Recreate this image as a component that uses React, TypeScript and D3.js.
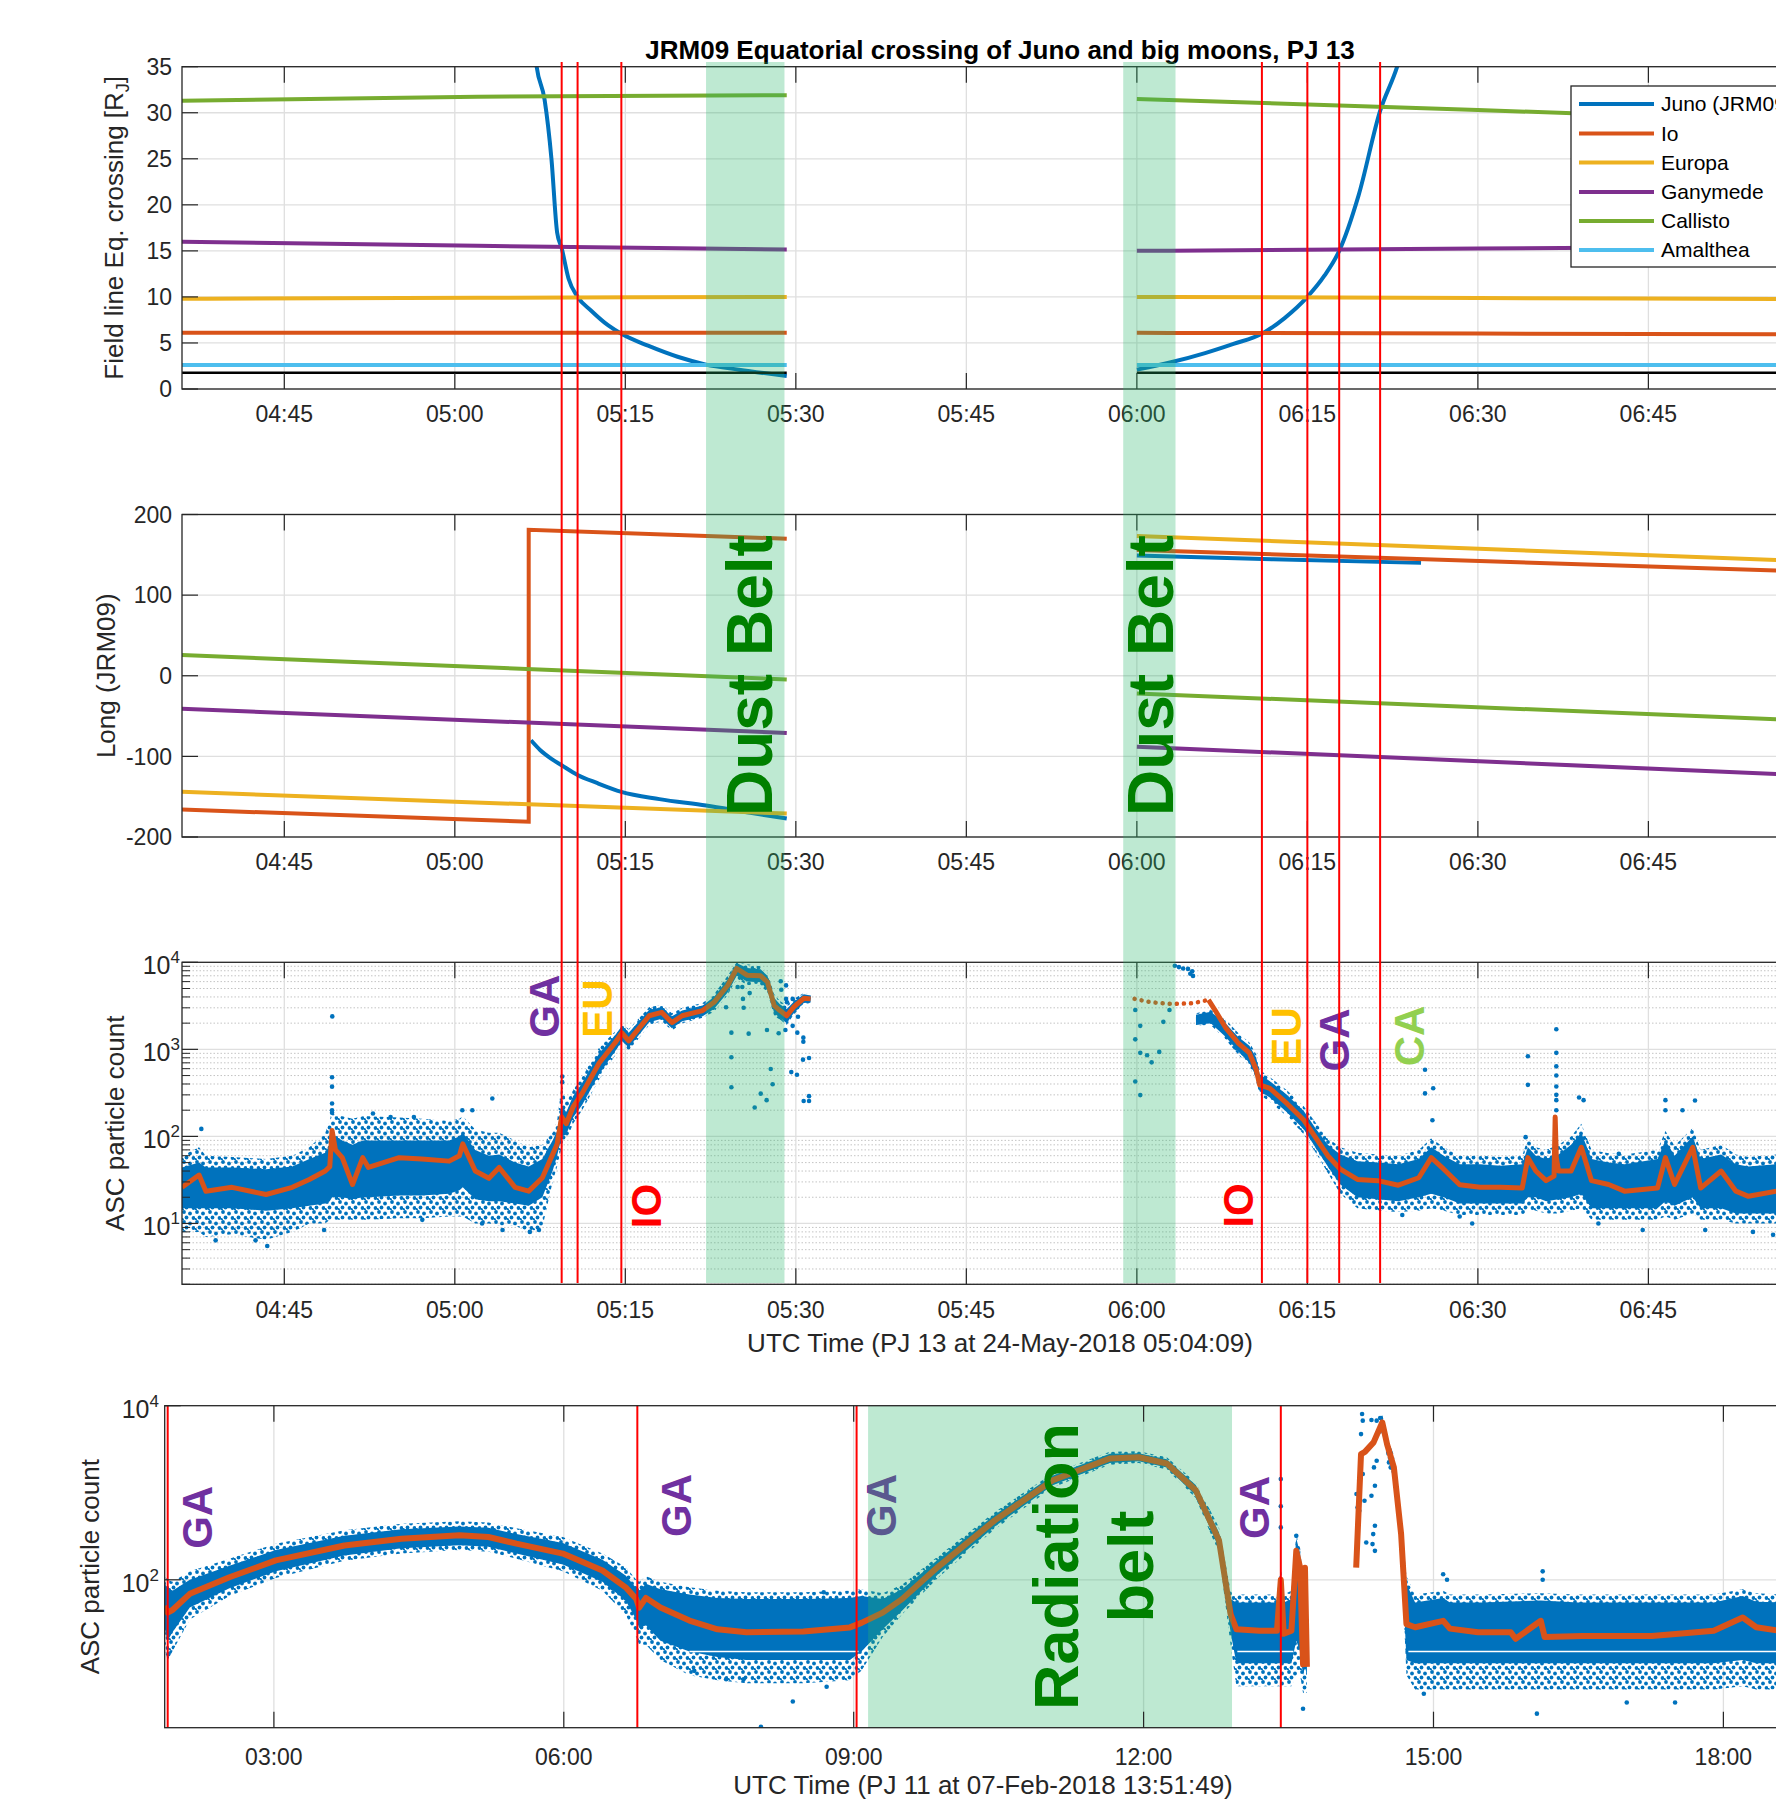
import React from 'react';
import * as d3 from 'd3';

// ================= DATA =================
// time axis of panels 1-3: minutes after 04:00 UTC (24-May-2018)
const pjTickMin = [45, 60, 75, 90, 105, 120, 135, 150, 165, 180];
const pjTickLabels = ['04:45', '05:00', '05:15', '05:30', '05:45', '06:00', '06:15', '06:30', '06:45', ''];
// time axis of panel 4: hours UTC (07-Feb-2018)
const pj11TickHour = [3, 6, 9, 12, 15, 18];
const pj11TickLabels = ['03:00', '06:00', '09:00', '12:00', '15:00', '18:00'];

const eqTicks = [0, 5, 10, 15, 20, 25, 30, 35];
const lonTicks = [-200, -100, 0, 100, 200];
const logTicks3 = [10, 100, 1000, 10000];
const logTickExp3 = ['1', '2', '3', '4'];
const logTicks4 = [100, 10000];
const logTickExp4 = ['2', '4'];

const legendLabels = ['Juno (JRM09)', 'Io', 'Europa', 'Ganymede', 'Callisto', 'Amalthea'];

// ---- Panel 1: field line equatorial crossing [RJ]
const junoEqT1 = [67.0, 67.2, 67.9, 68.5, 69.0, 69.4, 70.0, 70.8, 72.0, 73.5, 74.65, 77.0, 79.6, 82.1, 85.0, 89.2];
const junoEqV1 = [37, 35, 31.4, 25, 17, 15.3, 12.0, 10, 8.5, 6.9, 6.0, 4.7, 3.5, 2.65, 2.1, 1.4];
const junoEqT2 = [120, 123, 126, 128.5, 131.0, 133.0, 135.0, 136.5, 137.8, 139.5, 141.4, 142.9, 143.5];
const junoEqV2 = [2.1, 2.9, 3.9, 4.9, 6.0, 7.7, 10, 12.3, 15, 21, 30.2, 35, 37.5];
const moonT1 = [36, 62, 89.2];
const moonT2 = [120, 150, 180];
const ioEq1 = [6.1, 6.1, 6.1];
const ioEq2 = [6.1, 6.02, 5.95];
const europaEq1 = [9.8, 9.9, 10.0];
const europaEq2 = [10.0, 9.88, 9.75];
const ganymedeEq1 = [16.0, 15.55, 15.15];
const ganymedeEq2 = [15.0, 15.25, 15.5];
const callistoEq1 = [31.3, 31.75, 31.9];
const callistoEq2 = [31.5, 30.3, 29.0];
const amaltheaEq1 = [2.6, 2.6, 2.6];
const amaltheaEq2 = [2.6, 2.6, 2.6];
const jupiterEq1 = [1.77, 1.77, 1.77];
const jupiterEq2 = [1.77, 1.77, 1.77];

// ---- Panel 2: longitude (JRM09)
const junoLonT1 = [66.7, 67.5, 68.5, 69.4, 70.8, 72.5, 74.65, 78, 82.1, 86, 89.2];
const junoLonV1 = [-80, -92, -103, -111, -123, -133, -144, -153, -161, -170, -177];
const junoLonT2 = [120, 132, 145];
const junoLonV2 = [149, 144.5, 140];
const ioLonT1 = [36, 66.5, 66.5, 89.2];
const ioLonV1 = [-166, -181, 181, 170];
const lonT1 = [36, 89.2];
const lonT2 = [120, 180];
const ioLonV2 = [156, 128.7];
const europaLonV1 = [-144, -171];
const europaLonV2 = [173.3, 141.7];
const ganymedeLonV1 = [-41, -71];
const ganymedeLonV2 = [-88, -124];
const callistoLonV1 = [25.7, -4.5];
const callistoLonV2 = [-22, -56];

// ---- Panel 3: ASC particle count, PJ13 (median and spread of the raw cloud)
const p3T = [36, 37.5, 38.1, 40.4, 43.4, 45.7, 47.2, 48.6, 49.0, 49.2, 49.5, 50.1, 51.0, 51.9, 52.4, 55.1, 57.1, 59.5, 60.4, 60.7, 61.8, 63.0, 63.9, 65.3, 66.5, 67.7, 68.6, 69.0, 69.4, 69.8, 70.4, 71.2, 72.7, 74.1, 74.7, 75.3, 77.1, 78.2, 79.1, 80.0, 81.8, 82.8, 84.0, 84.8, 85.7, 86.9, 87.5, 88.1, 88.6, 89.2, 89.8, 90.7, 91.3];
const p3Med = [26, 36, 23.5, 26, 21.5, 26, 32, 40, 45, 117, 70, 57, 28, 57, 44, 57, 55, 52, 60, 82, 40, 33, 44, 26, 23.5, 33.5, 62, 82, 167, 140, 218, 312, 698, 1190, 1550, 1250, 2430, 2660, 2030, 2430, 2790, 3470, 5420, 8490, 7110, 7000, 5940, 3180, 2790, 2430, 3050, 3860, 3800];
const p3Lo = [15, 15, 15, 15, 14, 15, 16, 17, 18, 20, 20, 20, 19, 20, 20, 21, 21, 22, 24, 26, 19, 18, 18, 17, 16, 20, 40, 60, 100, 105, 165, 230, 520, 950, 1250, 1050, 2050, 2250, 1750, 2100, 2400, 2900, 4500, 7000, 6000, 5900, 4900, 2600, 2300, 2000, 2600, 3400, 3450];
const p3Hi = [44, 50, 44, 44, 42, 45, 55, 65, 80, 100, 100, 90, 80, 90, 90, 90, 90, 90, 100, 110, 70, 60, 62, 50, 45, 55, 90, 115, 230, 190, 290, 410, 900, 1450, 1850, 1550, 2850, 3050, 2400, 2800, 3200, 4000, 6400, 9800, 8600, 8300, 7000, 3900, 3300, 2900, 3500, 4300, 4150];
const p3OLo = [8, 8, 7, 7.5, 6.5, 8, 10, 10, 11, 11, 11, 11, 11, 11, 11, 11.5, 11.5, 12, 12, 12, 10, 10, 9.5, 9.5, 8, 9, 30, 45, 75, 90, 140, 200, 450, 850, 1150, 950, 1900, 2100, 1650, 2000, 2300, 2700, 4200, 6500, 5500, 5400, 4500, 2400, 2200, 1900, 2500, 3300, 3400];
const p3OHi = [60, 75, 60, 58, 55, 60, 75, 110, 150, 200, 170, 170, 160, 170, 170, 165, 160, 150, 160, 170, 120, 110, 110, 90, 75, 80, 110, 150, 400, 250, 340, 480, 1050, 1600, 2000, 1700, 3050, 3250, 2600, 3000, 3400, 4300, 7000, 10000, 9500, 9000, 7600, 4300, 3600, 3200, 3800, 4450, 4250];

// PJ13 outbound: sparse median samples (dotted) then continuous median
const p3DotT = [119.8, 121.2, 123.05, 124.9, 126.3];
const p3DotV = [3800, 3480, 3320, 3380, 3700];
const p3MedBT = [126.3, 126.9, 127.8, 128.9, 129.9, 130.5, 130.8, 131.7, 133.2, 134.7, 135.7, 136.8, 137.9, 139.4, 141.2, 143.0, 144.8, 145.9, 147.0, 148.4, 150.2, 152.0, 153.9, 154.4, 155.1, 156.0, 156.7, 156.8, 156.9, 157.1, 158.2, 159.1, 160.0, 161.5, 162.9, 165.8, 166.5, 167.3, 168.9, 169.6, 171.4, 172.7, 173.8, 176.3, 180];
const p3MedBV = [3700, 2790, 1780, 1190, 912, 583, 391, 357, 239, 153, 98, 60, 42, 32, 31, 27.5, 33.5, 57, 42, 27.8, 26, 26, 25.5, 57, 40, 31, 35, 167, 57, 40, 40, 75, 31, 28, 23.5, 25.5, 57, 28, 75, 25.5, 40, 23.5, 20.5, 23.5, 24];
const p3BandBT = [125.2, 126.5, 127.8, 128.9, 129.9, 130.5, 130.8, 131.7, 133.2, 134.7, 135.7, 136.8, 137.9, 139.4, 141.2, 143.0, 144.8, 145.9, 147.0, 148.4, 150.2, 152.0, 153.9, 154.4, 155.1, 156.0, 157.1, 158.2, 159.1, 160.0, 161.5, 162.9, 165.8, 166.5, 167.3, 168.9, 169.6, 171.4, 172.7, 173.8, 176.3, 180];
const p3BandBLo = [1900, 2000, 1400, 950, 700, 480, 330, 280, 190, 120, 75, 45, 28, 20, 19, 18, 20, 22, 20, 17, 17, 17, 17, 20, 20, 18, 19, 20, 22, 15, 15, 15, 15, 18, 16, 20, 15, 15, 13, 13, 13, 13];
const p3BandBHi = [2500, 2700, 2000, 1400, 1100, 800, 520, 430, 300, 195, 125, 80, 62, 52, 50, 48, 55, 75, 60, 48, 48, 46, 48, 75, 60, 55, 62, 80, 110, 55, 50, 48, 55, 90, 60, 100, 55, 62, 48, 45, 48, 48];
const p3BandBOLo = [1850, 1900, 1300, 880, 640, 430, 300, 250, 170, 105, 66, 38, 22, 15, 14, 13.5, 14, 15, 14, 12.5, 12.5, 12.5, 12.5, 14, 14, 13, 13, 14, 15, 11, 11, 11, 11, 12, 11, 13, 11, 11, 10, 10, 10, 10];
const p3BandBOHi = [2600, 2850, 2200, 1550, 1200, 880, 580, 480, 340, 220, 145, 95, 75, 65, 62, 60, 70, 95, 75, 60, 60, 58, 60, 95, 75, 70, 80, 100, 140, 70, 64, 62, 70, 115, 78, 125, 70, 80, 62, 58, 62, 62];

const p3OutT = [49.22, 49.2, 49.2, 49.2, 49.2, 49.2, 63.3, 60.66, 61.54, 37.7, 52.8, 54.35, 56.4, 69.45, 69.45, 38.96, 42.47, 43.5, 48.5, 57.14, 62.4, 64.2, 66.6, 67.4,
  84.33, 84.33, 84.33, 85.85, 86.38, 86.91, 87.43, 87.46, 87.79, 87.96, 88.49, 89.08, 89.72, 90.13, 90.66, 90.66, 89.6, 90.1, 90.63, 91.16, 90.69, 91.16, 91.16, 83.86, 85.41, 85.35, 85.94, 84.88, 85.29, 88.67, 88.72, 89.14, 89.14, 89.22, 89.72, 90.19,
  119.86, 120.3, 119.86, 120.3, 120.9, 121.3, 121.97, 119.86, 120.3, 122.33, 122.87, 123.34, 123.7, 124.07, 124.5, 124.87, 124.94, 124.7,
  145.35, 145.35, 146.07, 146.0, 154.4, 154.4, 156.9, 156.9, 156.9, 156.9, 156.9, 156.9, 156.9, 156.9, 158.9, 159.3, 166.5, 166.5, 168.0, 169.1, 162.4, 154.2, 149.5, 148.4, 143.35, 160.6, 164.5, 170.0, 175.97, 174.2];
const p3OutV = [2390, 479, 373, 239, 200, 187, 273, 200, 200, 122, 183, 167, 167, 488, 420, 6.4, 6.4, 5.5, 8.4, 11, 10, 8.4, 8, 8.4,
  1556, 811, 367, 1515, 215, 310, 261, 1671, 594, 397, 1531, 1671, 1862, 1556, 1362, 1222, 548, 511, 762, 796, 255, 255, 290, 3040, 3000, 3800, 4430, 5200, 5200, 6050, 4840, 5430, 3800, 3480, 3800, 2370,
  2830, 1862, 1303, 912, 855, 709, 935, 427, 298, 2070, 2830, 9120, 8810, 8490, 8400, 7900, 6980, 7400,
  583, 312, 357, 153, 834, 391, 1702, 912, 638, 500, 374, 300, 261, 200, 280, 261, 261, 200, 200, 258, 63, 98, 10, 12, 12.5, 10, 8.4, 8.4, 7.4, 8];

// ---- Panel 4: ASC particle count, PJ11 (hours)
const p4T1 = [1.87, 1.9, 1.95, 2.13, 2.54, 3.02, 3.73, 4.32, 4.92, 5.22, 5.51, 5.99, 6.4, 6.64, 6.75, 6.78, 6.85, 7.0, 7.3, 7.59, 7.89, 8.48, 8.96, 9.08, 9.3, 9.5, 9.87, 10.46, 11.06, 11.65, 11.95, 12.24, 12.54, 12.78, 12.9, 12.96, 13.2, 13.38, 13.42, 13.45, 13.53, 13.58, 13.62, 13.65, 13.67, 13.69];
const p4Med1 = [50, 42, 45, 69, 107, 167, 248, 296, 324, 310, 260, 200, 128, 82, 60, 48, 62, 48, 34, 27, 25, 25.5, 28.4, 32, 42, 60, 140, 482, 1393, 2478, 2560, 2170, 1069, 284, 40.5, 27, 26, 26, 100, 24, 26, 215, 138, 10.7, 138, 10];
const p4Lo1 = [28, 20, 25, 48, 80, 125, 190, 230, 250, 240, 200, 150, 95, 58, 35, 28, 30, 20, 15, 13, 12, 12, 12, 15, 27, 44, 115, 410, 1220, 2200, 2300, 1950, 930, 230, 25, 11, 11, 11, 11, 11, 11, 20, 15, 8, 10, 8];
const p4Hi1 = [90, 80, 75, 100, 145, 220, 320, 380, 410, 395, 335, 265, 170, 112, 80, 75, 90, 78, 68, 62, 60, 60, 62, 65, 60, 78, 170, 560, 1580, 2800, 2850, 2420, 1230, 350, 60, 55, 55, 55, 120, 55, 60, 300, 200, 80, 150, 30];
const p4OLo1 = [16, 12, 15, 35, 65, 105, 165, 200, 220, 210, 175, 125, 75, 40, 22, 18, 18, 12, 8, 7, 6.5, 6.5, 7, 9, 22, 40, 105, 380, 1150, 2100, 2200, 1850, 870, 200, 18, 6, 6, 6, 6, 6, 6, 8, 8, 5, 5, 5];
const p4OHi1 = [110, 100, 95, 125, 175, 260, 370, 440, 470, 455, 390, 310, 200, 140, 100, 95, 110, 95, 82, 75, 72, 72, 75, 78, 70, 88, 185, 600, 1680, 2950, 3000, 2550, 1320, 400, 75, 68, 68, 68, 140, 68, 75, 330, 230, 100, 170, 40];

const p4MedT2 = [14.2, 14.25, 14.29, 14.38, 14.47, 14.52, 14.59, 14.665, 14.72, 14.81, 15.1, 15.17, 15.46, 15.8, 15.85, 16.11, 16.15, 16.54, 17.26, 17.9, 18.2, 18.34, 18.58, 18.8];
const p4Med2 = [138, 2780, 2950, 3790, 6430, 3600, 1955, 335, 31, 28.5, 33.8, 27.5, 25, 25, 21, 33.8, 22, 22.6, 22.6, 26, 36.9, 28.5, 26, 26];
const p4BandT2 = [14.45, 14.47, 14.52, 14.59, 14.665, 14.72, 14.81, 15.1, 15.17, 15.5, 16.11, 16.5, 17.3, 17.9, 18.2, 18.34, 18.6, 18.8];
const p4Lo2 = [5000, 5200, 2800, 1600, 250, 12, 11, 11, 11, 11, 11, 11, 11, 11, 12, 11, 11, 11];
const p4Hi2 = [7000, 7500, 4000, 2400, 450, 90, 55, 62, 55, 55, 58, 55, 55, 55, 65, 56, 55, 55];
const p4OLo2 = [4500, 4800, 2500, 1400, 200, 8, 5.5, 5.5, 5.5, 5.5, 5.5, 5.5, 5.5, 5.5, 6, 5.5, 5.5, 5.5];
const p4OHi2 = [7800, 8000, 4400, 2700, 520, 110, 68, 75, 68, 68, 70, 68, 68, 68, 78, 70, 68, 68];
const p4GapLevel = 15;
const p4GapRanges = [[7.3, 9.05], [12.97, 13.55], [14.74, 18.8]];

const p4OutT = [1.907, 1.907, 8.04, 8.37, 8.72, 7.35, 7.68, 7.86, 8.69, 15.1, 15.14, 16.13, 16.13, 17.0, 16.07, 17.5, 14.9, 13.65, 13.42, 13.42, 13.42, 13.58,
  14.261, 14.268, 14.25, 14.232, 14.214, 14.203, 14.304, 14.369, 14.394, 14.394, 14.376, 14.358, 14.394, 14.384, 14.412, 14.412, 14.358, 14.448, 14.539, 14.557, 14.268, 14.232, 14.286];
const p4OutV = [14, 24, 2.05, 4.0, 5.9, 9, 7.2, 7.2, 72, 116, 100, 125, 100, 3.9, 2.9, 3.9, 4.9, 3.3, 1435, 700, 400, 320,
  8020, 6730, 4720, 1375, 677, 966, 268, 257, 215, 418, 335, 925, 1202, 1955, 2333, 6730, 6840, 7210, 2233, 1955, 1641, 621, 809];

// ---- crossings & belts
const pj13CrossMin = [69.4, 70.8, 74.65, 131.0, 135.0, 137.8, 141.4];
const pj11CrossHour = [1.901, 6.761, 9.03, 13.42];
const dustBelts = [[82.1, 89.0], [118.8, 123.4]];
const radiationBelt = [9.149, 12.915];

// annotations (anchored in data coordinates: time of text baseline, value at text start)
const p3Labels = [
  { text: 'GA', t: 69.17, v: 1362, color: '#7030A0' },
  { text: 'EU', t: 73.86, v: 1362, color: '#FFC000' },
  { text: 'IO', t: 78.1, v: 8.8, color: '#FF0000' },
  { text: 'IO', t: 130.23, v: 8.96, color: '#FF0000' },
  { text: 'EU', t: 134.4, v: 650, color: '#FFC000' },
  { text: 'GA', t: 138.64, v: 557, color: '#7030A0' },
  { text: 'CA', t: 145.24, v: 638, color: '#92D050' },
];
const p4Labels = [
  { text: 'GA', t: 2.364, v: 227, color: '#7030A0' },
  { text: 'GA', t: 7.312, v: 310, color: '#7030A0' },
  { text: 'GA', t: 9.433, v: 310, color: '#7030A0' },
  { text: 'GA', t: 13.294, v: 295, color: '#7030A0' },
];
const dustBeltLabelT = [87.93, 123.19];
const dustBeltLabelV = -174;
const radLabelT = [11.321, 12.094];
const radLabelV = 142;
const radLabelLines = ['Radiation', 'belt'];

// ================= STYLE / LAYOUT =================
const FONT = '"Liberation Sans", Arial, Helvetica, sans-serif';
const AX = '#262626';
const GRID = '#DFDFDF';
const COL = {
  juno: '#0072BD', io: '#D95319', europa: '#EDB120', ganymede: '#7E2F8E',
  callisto: '#77AC30', amalthea: '#4DBEEE', blue: '#0072BD', orange: '#D95319',
};
const BAND = 'rgb(41,181,106)';
const BAND_OP = 0.3;

const P1 = { l: 182, r: 1818.9, t: 66.7, b: 389 };
const P2 = { l: 182, r: 1818.9, t: 514.5, b: 837 };
const P3 = { l: 182, r: 1818.9, t: 962.3, b: 1284.3 };
const P4 = { l: 164.7, r: 1800.7, t: 1405.7, b: 1727.7 };

const x13 = d3.scaleLinear().domain([36, 180]).range([P1.l, P1.r]);
const x11 = d3.scaleLinear().domain([1.87, 18.8]).range([P4.l, P4.r]);
const y1 = d3.scaleLinear().domain([0, 35]).range([P1.b, P1.t]);
const y2 = d3.scaleLinear().domain([-200, 200]).range([P2.b, P2.t]);
const y3 = d3.scaleLog().domain([2, 1e4]).range([P3.b, P3.t]);
const y4 = d3.scaleLog().domain([2, 1e4]).range([P4.b, P4.t]);

function linePath(x: any, y: any, T: number[], V: number[], curve?: any) {
  return d3.line<number>().x((_, i) => x(T[i])).y((d) => y(d)).curve(curve || d3.curveLinear)(V) || '';
}
function areaPath(x: any, y: any, T: number[], lo: number[], hi: number[], curve?: any) {
  return d3.area<number>().x((d) => x(d)).y0((_, i) => y(lo[i])).y1((_, i) => y(hi[i])).curve(curve || d3.curveLinear)(T) || '';
}

const TICK = 16;

function Frame({ P, xs, xTicks, yTicks, ys, minorY }: any) {
  return (
    <g>
      {xTicks.map((t: number, i: number) => (
        <g key={'x' + i}>
          <line x1={xs(t)} x2={xs(t)} y1={P.b} y2={P.b - TICK} stroke={AX} strokeWidth={1.2} />
          <line x1={xs(t)} x2={xs(t)} y1={P.t} y2={P.t + TICK} stroke={AX} strokeWidth={1.2} />
        </g>
      ))}
      {yTicks.map((v: number, i: number) => (
        <g key={'y' + i}>
          <line x1={P.l} x2={P.l + TICK} y1={ys(v)} y2={ys(v)} stroke={AX} strokeWidth={1.2} />
          <line x1={P.r} x2={P.r - TICK} y1={ys(v)} y2={ys(v)} stroke={AX} strokeWidth={1.2} />
        </g>
      ))}
      {(minorY || []).map((v: number, i: number) => (
        <line key={'m' + i} x1={P.l} x2={P.l + 8} y1={ys(v)} y2={ys(v)} stroke={AX} strokeWidth={1} />
      ))}
      <rect x={P.l} y={P.t} width={P.r - P.l} height={P.b - P.t} fill="none" stroke={AX} strokeWidth={1.3} />
    </g>
  );
}

function Grid({ P, xs, xTicks, ys, yTicks, minorY }: any) {
  return (
    <g>
      {(minorY || []).map((v: number, i: number) => (
        <line key={'mg' + i} x1={P.l} x2={P.r} y1={ys(v)} y2={ys(v)} stroke="#C4C4C4" strokeWidth={1} strokeDasharray="1.5 2" />
      ))}
      {xTicks.map((t: number, i: number) => (
        <line key={'gx' + i} x1={xs(t)} x2={xs(t)} y1={P.t} y2={P.b} stroke={GRID} strokeWidth={1.3} />
      ))}
      {yTicks.map((v: number, i: number) => (
        <line key={'gy' + i} x1={P.l} x2={P.r} y1={ys(v)} y2={ys(v)} stroke={GRID} strokeWidth={1.3} />
      ))}
    </g>
  );
}

function XLabels({ xs, ticks, labels, y }: any) {
  return (
    <g>
      {ticks.map((t: number, i: number) => (labels[i] ?
        <text key={i} x={xs(t)} y={y} textAnchor="middle" fontSize={23} fill={AX} fontFamily={FONT}>{labels[i]}</text> : null
      ))}
    </g>
  );
}

function minorLog(): number[] {
  const out: number[] = [];
  for (let k = 0; k <= 3; k++) {
    for (let m = 2; m <= 9; m++) {
      const v = m * Math.pow(10, k);
      if (v >= 2 && v < 1e4) out.push(v);
    }
  }
  return out;
}

function Cloud({ xs, ys, T, lo, hi, olo, ohi, curve }: any) {
  return (
    <g>
      <path d={areaPath(xs, ys, T, olo, ohi, curve)} fill="url(#speck)" />
      <path d={areaPath(xs, ys, T, lo, hi, curve)} fill={COL.blue} />
    </g>
  );
}

function RotText({ x, y, text, size, color, anchor }: any) {
  return (
    <text transform={`translate(${x},${y}) rotate(-90)`} textAnchor={anchor || 'start'} fontSize={size}
      fontWeight="bold" fill={color} fontFamily={FONT}>{text}</text>
  );
}

export default function App() {
  const minor3 = minorLog();
  const legendRowY = [104, 133.5, 162.5, 192, 221, 250];
  const legendColors = [COL.juno, COL.io, COL.europa, COL.ganymede, COL.callisto, COL.amalthea];
  const smooth = d3.curveMonotoneX;

  return (
    <svg width={1776} height={1801} style={{ position: 'absolute', left: 0, top: 0, background: '#fff' }}
      fontFamily={FONT}>
      <defs>
        <clipPath id="c1"><rect x={P1.l} y={P1.t} width={P1.r - P1.l} height={P1.b - P1.t} /></clipPath>
        <clipPath id="c2"><rect x={P2.l} y={P2.t} width={P2.r - P2.l} height={P2.b - P2.t} /></clipPath>
        <clipPath id="c3"><rect x={P3.l} y={P3.t} width={P3.r - P3.l} height={P3.b - P3.t} /></clipPath>
        <clipPath id="c4"><rect x={P4.l} y={P4.t} width={P4.r - P4.l} height={P4.b - P4.t} /></clipPath>
        <pattern id="speck" width="13" height="10" patternUnits="userSpaceOnUse">
          <circle cx="2" cy="2" r="1.9" fill={COL.blue} />
          <circle cx="8" cy="3.5" r="1.9" fill={COL.blue} />
          <circle cx="11.5" cy="8" r="1.9" fill={COL.blue} />
          <circle cx="4.5" cy="7.5" r="1.9" fill={COL.blue} />
          <circle cx="0.5" cy="9.5" r="1.5" fill={COL.blue} />
        </pattern>
      </defs>
      <rect x={0} y={0} width={1776} height={1801} fill="#fff" />

      {/* ================= PANEL 1 ================= */}
      <Grid P={P1} xs={x13} xTicks={pjTickMin} ys={y1} yTicks={eqTicks} />
      <g clipPath="url(#c1)" fill="none" strokeWidth={4}>
        <path d={linePath(x13, y1, junoEqT1, junoEqV1, smooth)} stroke={COL.juno} />
        <path d={linePath(x13, y1, junoEqT2, junoEqV2, smooth)} stroke={COL.juno} />
        {[[ioEq1, ioEq2, COL.io], [europaEq1, europaEq2, COL.europa], [ganymedeEq1, ganymedeEq2, COL.ganymede],
          [callistoEq1, callistoEq2, COL.callisto], [amaltheaEq1, amaltheaEq2, COL.amalthea]].map((s: any, i) => (
          <g key={i}>
            <path d={linePath(x13, y1, moonT1, s[0], smooth)} stroke={s[2]} />
            <path d={linePath(x13, y1, moonT2, s[1], smooth)} stroke={s[2]} />
          </g>
        ))}
        <path d={linePath(x13, y1, moonT1, jupiterEq1)} stroke="#000" strokeWidth={2.5} />
        <path d={linePath(x13, y1, moonT2, jupiterEq2)} stroke="#000" strokeWidth={2.5} />
      </g>
      {/* legend */}
      <g>
        <rect x={1571} y={86} width={300} height={181} fill="#fff" stroke={AX} strokeWidth={1.3} />
        {legendLabels.map((lab, i) => (
          <g key={i}>
            <line x1={1579} x2={1654} y1={legendRowY[i]} y2={legendRowY[i]} stroke={legendColors[i]} strokeWidth={4} />
            <text x={1661} y={legendRowY[i]} dy="0.35em" fontSize={21} fill="#000">{lab}</text>
          </g>
        ))}
      </g>
      <Frame P={P1} xs={x13} xTicks={pjTickMin} ys={y1} yTicks={eqTicks} />
      {eqTicks.map((v, i) => (
        <text key={i} x={P1.l - 10} y={y1(v)} dy="0.36em" textAnchor="end" fontSize={23} fill={AX}>{v}</text>
      ))}
      <XLabels xs={x13} ticks={pjTickMin} labels={pjTickLabels} y={P1.b + 32.5} />
      <text transform={`translate(123,${(P1.t + P1.b) / 2}) rotate(-90)`} textAnchor="middle" fontSize={26} fill={AX}>
        Field line Eq. crossing [R<tspan fontSize={18} dy={6}>J</tspan><tspan dy={-6}>]</tspan>
      </text>
      <text x={1000} y={59} textAnchor="middle" fontSize={26} fontWeight="bold" fill="#000">
        JRM09 Equatorial crossing of Juno and big moons, PJ 13
      </text>

      {/* ================= PANEL 2 ================= */}
      <Grid P={P2} xs={x13} xTicks={pjTickMin} ys={y2} yTicks={lonTicks} />
      <g clipPath="url(#c2)" fill="none" strokeWidth={4}>
        <path d={linePath(x13, y2, junoLonT1, junoLonV1, smooth)} stroke={COL.juno} />
        <path d={linePath(x13, y2, junoLonT2, junoLonV2)} stroke={COL.juno} />
        <path d={linePath(x13, y2, ioLonT1, ioLonV1)} stroke={COL.io} />
        <path d={linePath(x13, y2, lonT2, ioLonV2)} stroke={COL.io} />
        <path d={linePath(x13, y2, lonT1, europaLonV1)} stroke={COL.europa} />
        <path d={linePath(x13, y2, lonT2, europaLonV2)} stroke={COL.europa} />
        <path d={linePath(x13, y2, lonT1, ganymedeLonV1)} stroke={COL.ganymede} />
        <path d={linePath(x13, y2, lonT2, ganymedeLonV2)} stroke={COL.ganymede} />
        <path d={linePath(x13, y2, lonT1, callistoLonV1)} stroke={COL.callisto} />
        <path d={linePath(x13, y2, lonT2, callistoLonV2)} stroke={COL.callisto} />
      </g>
      <Frame P={P2} xs={x13} xTicks={pjTickMin} ys={y2} yTicks={lonTicks} />
      {lonTicks.map((v, i) => (
        <text key={i} x={P2.l - 10} y={y2(v)} dy="0.36em" textAnchor="end" fontSize={23} fill={AX}>{v}</text>
      ))}
      <XLabels xs={x13} ticks={pjTickMin} labels={pjTickLabels} y={P2.b + 33} />
      <text transform={`translate(115,${(P2.t + P2.b) / 2}) rotate(-90)`} textAnchor="middle" fontSize={26} fill={AX}>Long (JRM09)</text>

      {/* ================= PANEL 3 ================= */}
      <Grid P={P3} xs={x13} xTicks={pjTickMin} ys={y3} yTicks={[10, 100, 1000]} minorY={minor3} />
      <g clipPath="url(#c3)">
        <Cloud xs={x13} ys={y3} T={p3T} lo={p3Lo} hi={p3Hi} olo={p3OLo} ohi={p3OHi} />
        <Cloud xs={x13} ys={y3} T={p3BandBT} lo={p3BandBLo} hi={p3BandBHi} olo={p3BandBOLo} ohi={p3BandBOHi} />
        {p3OutT.map((t, i) => (
          <circle key={i} cx={x13(t)} cy={y3(p3OutV[i])} r={2.3} fill={COL.blue} />
        ))}
        <path d={linePath(x13, y3, p3T, p3Med)} stroke={COL.orange} strokeWidth={5} fill="none" strokeLinejoin="round" />
        <path d={linePath(x13, y3, p3DotT, p3DotV)} stroke={COL.orange} strokeWidth={4.5} fill="none" strokeDasharray="0.1 7" strokeLinecap="round" />
        <path d={linePath(x13, y3, p3MedBT, p3MedBV)} stroke={COL.orange} strokeWidth={5} fill="none" strokeLinejoin="round" />
      </g>
      <Frame P={P3} xs={x13} xTicks={pjTickMin} ys={y3} yTicks={logTicks3} minorY={minor3} />
      {logTicks3.map((v, i) => (
        <text key={i} x={180} y={y3(v) + 12} textAnchor="end" fontSize={25} fill={AX}>
          10<tspan fontSize={17} dy={-11}>{logTickExp3[i]}</tspan>
        </text>
      ))}
      <XLabels xs={x13} ticks={pjTickMin} labels={pjTickLabels} y={P3.b + 33.7} />
      <text x={1000} y={1352} textAnchor="middle" fontSize={26} fill={AX}>UTC Time (PJ 13 at 24-May-2018 05:04:09)</text>
      <text transform={`translate(124,${(P3.t + P3.b) / 2}) rotate(-90)`} textAnchor="middle" fontSize={26} fill={AX}>ASC particle count</text>
      {p3Labels.map((l, i) => (
        <RotText key={i} x={x13(l.t)} y={y3(l.v)} text={l.text} size={42} color={l.color} />
      ))}

      {/* overlays for panels 1-3 */}
      {dustBelts.map((b, i) => (
        <rect key={i} x={x13(b[0])} y={62} width={x13(b[1]) - x13(b[0])} height={1283 - 62} fill={BAND} fillOpacity={BAND_OP} />
      ))}
      {pj13CrossMin.map((t, i) => (
        <line key={i} x1={x13(t)} x2={x13(t)} y1={62} y2={1283} stroke="#FF0000" strokeWidth={2} />
      ))}
      {dustBeltLabelT.map((t, i) => (
        <RotText key={i} x={x13(t)} y={y2(dustBeltLabelV)} text="Dust Belt" size={64} color="#008000" />
      ))}

      {/* ================= PANEL 4 ================= */}
      <Grid P={P4} xs={x11} xTicks={pj11TickHour} ys={y4} yTicks={[100]} />
      <g clipPath="url(#c4)">
        <Cloud xs={x11} ys={y4} T={p4T1} lo={p4Lo1} hi={p4Hi1} olo={p4OLo1} ohi={p4OHi1} />
        <Cloud xs={x11} ys={y4} T={p4BandT2} lo={p4Lo2} hi={p4Hi2} olo={p4OLo2} ohi={p4OHi2} />
        {p4GapRanges.map((r, i) => (
          <line key={i} x1={x11(r[0])} x2={x11(r[1])} y1={y4(p4GapLevel)} y2={y4(p4GapLevel)} stroke="#fff" strokeWidth={1.5} />
        ))}
        {p4OutT.map((t, i) => (
          <circle key={i} cx={x11(t)} cy={y4(p4OutV[i])} r={2.3} fill={COL.blue} />
        ))}
        <path d={linePath(x11, y4, p4T1, p4Med1)} stroke={COL.orange} strokeWidth={6} fill="none" strokeLinejoin="round" />
        <path d={linePath(x11, y4, p4MedT2, p4Med2)} stroke={COL.orange} strokeWidth={6} fill="none" strokeLinejoin="round" />
      </g>
      {p4Labels.map((l, i) => (
        <RotText key={i} x={x11(l.t)} y={y4(l.v)} text={l.text} size={42} color={l.color} />
      ))}
      <rect x={x11(radiationBelt[0])} y={P4.t} width={x11(radiationBelt[1]) - x11(radiationBelt[0])} height={P4.b - P4.t}
        fill={BAND} fillOpacity={BAND_OP} />
      {pj11CrossHour.map((t, i) => (
        <line key={i} x1={x11(t)} x2={x11(t)} y1={P4.t} y2={P4.b} stroke="#FF0000" strokeWidth={2} />
      ))}
      {radLabelT.map((t, i) => (
        <RotText key={i} x={x11(t)} y={y4(radLabelV)} text={radLabelLines[i]} size={63} color="#008000" anchor="middle" />
      ))}
      <Frame P={P4} xs={x11} xTicks={pj11TickHour} ys={y4} yTicks={logTicks4} />
      {logTicks4.map((v, i) => (
        <text key={i} x={159} y={y4(v) + 12} textAnchor="end" fontSize={25} fill={AX}>
          10<tspan fontSize={17} dy={-11}>{logTickExp4[i]}</tspan>
        </text>
      ))}
      <XLabels xs={x11} ticks={pj11TickHour} labels={pj11TickLabels} y={P4.b + 37.3} />
      <text x={983} y={1794} textAnchor="middle" fontSize={26} fill={AX}>UTC Time (PJ 11 at 07-Feb-2018 13:51:49)</text>
      <text transform={`translate(99,${(P4.t + P4.b) / 2}) rotate(-90)`} textAnchor="middle" fontSize={26} fill={AX}>ASC particle count</text>
    </svg>
  );
}
